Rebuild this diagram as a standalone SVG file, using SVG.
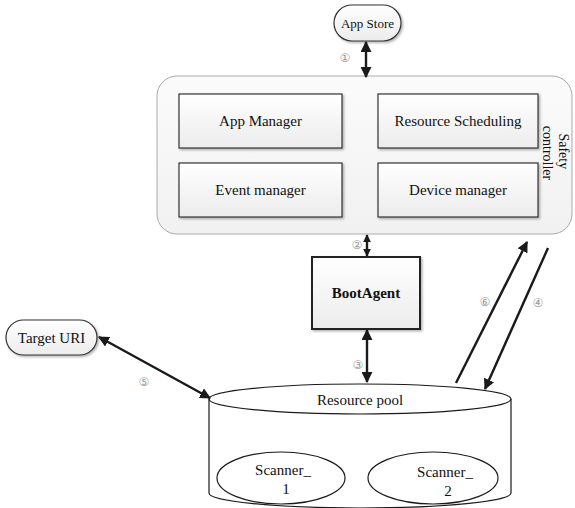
<svg xmlns="http://www.w3.org/2000/svg" width="575" height="508" viewBox="0 0 575 508">
  <style>
    .t { font-family: "Liberation Serif", "Times New Roman", serif; font-size: 15px; fill: #111; }
    .b { font-weight: bold; }
    .n { font-family: "DejaVu Sans", "Noto Sans", sans-serif; font-size: 12px; fill: #999; }
    .box { fill: url(#g); stroke: #333; stroke-width: 1.2; }
    .pill { fill: url(#g); stroke: #333; stroke-width: 1.2; }
    .line { fill: none; stroke: #1a1a1a; stroke-width: 1.2; }
    .arr { fill: none; stroke: #1a1a1a; stroke-width: 2.4; }
  </style>
  <defs>
    <linearGradient id="g" x1="0" y1="0" x2="0" y2="1">
      <stop offset="0" stop-color="#ffffff"/>
      <stop offset="1" stop-color="#ececec"/>
    </linearGradient>
    <linearGradient id="gc" x1="0" y1="0" x2="0" y2="1">
      <stop offset="0" stop-color="#fbfbfb"/>
      <stop offset="1" stop-color="#f1f1f1"/>
    </linearGradient>
    <marker id="ah" viewBox="0 0 10 10" refX="9" refY="5" markerUnits="userSpaceOnUse" markerWidth="11" markerHeight="11" orient="auto-start-reverse">
      <path d="M0,0 L10,5 L0,10 z" fill="#1a1a1a"/>
    </marker>
    <marker id="ahs" viewBox="0 0 10 10" refX="9" refY="5" markerUnits="userSpaceOnUse" markerWidth="8" markerHeight="9" orient="auto-start-reverse">
      <path d="M0,0 L10,5 L0,10 z" fill="#1a1a1a"/>
    </marker>
    <filter id="sh" x="-10%" y="-10%" width="130%" height="130%">
      <feDropShadow dx="1.5" dy="1.5" stdDeviation="1" flood-color="#000" flood-opacity="0.3"/>
    </filter>
  </defs>

  <!-- App Store -->
  <g id="app-store">
    <rect x="334" y="5" width="67" height="36" rx="18" class="pill" filter="url(#sh)"/>
    <text x="367.5" y="28" text-anchor="middle" class="t" style="font-size:13px">App Store</text>
  </g>

  <!-- Safety controller -->
  <g id="safety-controller">
    <rect x="157" y="76" width="415" height="158" rx="20" fill="url(#gc)" stroke="#aaa" stroke-width="1"/>
    <text transform="translate(552,153) rotate(90)" text-anchor="middle" class="t" style="font-size:14px">
      <tspan x="0" y="-7">Safety</tspan>
      <tspan x="0" y="9">controller</tspan>
    </text>
  </g>
  <g id="app-manager">
    <rect x="179" y="94" width="163" height="54" class="box" filter="url(#sh)"/>
    <text x="260.5" y="126" text-anchor="middle" class="t">App Manager</text>
  </g>
  <g id="resource-scheduling">
    <rect x="378" y="94" width="160" height="54" class="box" filter="url(#sh)"/>
    <text x="458" y="126" text-anchor="middle" class="t">Resource Scheduling</text>
  </g>
  <g id="event-manager">
    <rect x="179" y="163" width="163" height="54" class="box" filter="url(#sh)"/>
    <text x="260.5" y="195" text-anchor="middle" class="t">Event manager</text>
  </g>
  <g id="device-manager">
    <rect x="378" y="163" width="160" height="54" class="box" filter="url(#sh)"/>
    <text x="458" y="195" text-anchor="middle" class="t">Device manager</text>
  </g>

  <!-- BootAgent -->
  <g id="boot-agent">
    <rect x="312" y="257" width="108" height="72" fill="url(#g)" stroke="#222" stroke-width="2" filter="url(#sh)"/>
    <text x="366" y="298" text-anchor="middle" class="t b">BootAgent</text>
  </g>

  <!-- Target URI -->
  <g id="target-uri">
    <rect x="6" y="320" width="91" height="35" rx="17.5" class="pill" filter="url(#sh)"/>
    <text x="51.5" y="343" text-anchor="middle" class="t">Target URI</text>
  </g>

  <!-- Resource pool cylinder -->
  <g id="resource-pool">
    <path d="M209,399 L209,493 A151,15 0 0 0 511,493 L511,399" fill="#fff" class="line"/>
    <ellipse cx="360" cy="399" rx="151" ry="15" fill="#fff" class="line"/>
    <text x="360" y="405" text-anchor="middle" class="t">Resource pool</text>
  </g>
  <g id="scanner-1">
    <ellipse cx="281" cy="478" rx="64" ry="26" fill="#fff" class="line"/>
    <text x="283" y="475" text-anchor="middle" class="t">Scanner_</text>
    <text x="286" y="494" text-anchor="middle" class="t">1</text>
  </g>
  <g id="scanner-2">
    <ellipse cx="433" cy="478" rx="65" ry="26" fill="#fff" class="line"/>
    <text x="445" y="477" text-anchor="middle" class="t">Scanner_</text>
    <text x="448" y="496" text-anchor="middle" class="t">2</text>
  </g>

  <!-- Connectors -->
  <g id="connectors">
    <line x1="366" y1="42" x2="366" y2="77" class="arr" marker-start="url(#ah)" marker-end="url(#ah)"/>
    <line x1="367" y1="235" x2="367" y2="256" class="arr" marker-start="url(#ahs)" marker-end="url(#ahs)"/>
    <line x1="367" y1="330" x2="367" y2="382" class="arr" marker-start="url(#ah)" marker-end="url(#ah)"/>
    <line x1="99" y1="337" x2="210" y2="398" class="arr" marker-start="url(#ah)" marker-end="url(#ah)"/>
    <line x1="456" y1="383" x2="527" y2="242" class="arr" marker-end="url(#ah)"/>
    <line x1="548" y1="248" x2="485" y2="389" class="arr" marker-end="url(#ah)"/>
    <text x="345" y="62" text-anchor="middle" class="n">①</text>
    <text x="357" y="249" text-anchor="middle" class="n">②</text>
    <text x="358" y="369" text-anchor="middle" class="n">③</text>
    <text x="538" y="307" text-anchor="middle" class="n">④</text>
    <text x="144" y="386" text-anchor="middle" class="n">⑤</text>
    <text x="485" y="306" text-anchor="middle" class="n">⑥</text>
  </g>
</svg>
